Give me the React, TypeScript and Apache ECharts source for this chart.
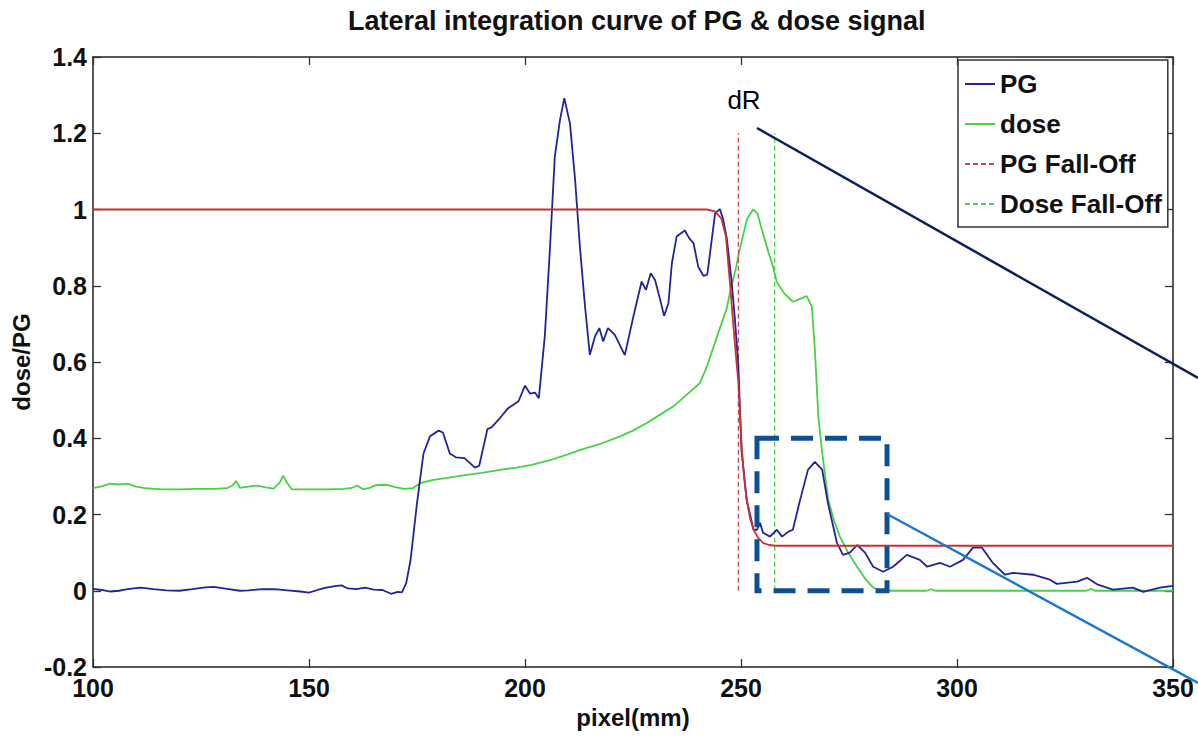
import React, { useEffect, useRef } from "react";
import * as echarts from "echarts";

// ---- data ----
const xTicks = [100, 150, 200, 250, 300, 350];
const yTicks = [-0.2, 0, 0.2, 0.4, 0.6, 0.8, 1, 1.2, 1.4];

const pgX = [100, 102, 104, 106, 108, 111, 114, 117, 120, 123, 126, 128, 131, 134, 136, 139, 142, 145, 148, 150, 152, 154, 156, 157.5, 159, 161, 163, 165, 167, 169, 170.5, 171.5, 172.5, 173.5, 175, 176.5, 178, 180, 181, 182.6, 184, 186, 188.4, 189.4, 191.3, 192.3, 194.2, 196.1, 198.5, 200, 201.2, 202.3, 203.2, 204.6, 205.8, 206.9, 208.1, 209.1, 210.4, 211.6, 212.7, 213.9, 215, 216.2, 217.2, 218.1, 219.2, 220.8, 223.1, 225.1, 227, 228, 229.1, 230.1, 231.3, 232.2, 233.2, 234, 235.1, 237, 238, 239, 240.1, 241.3, 242.2, 244, 245.1, 245.9, 246.7, 247.8, 248.6, 249.4, 250.1, 251.3, 252.9, 253.7, 254.4, 255.1, 256.7, 258.3, 259.5, 261, 262, 263.7, 265.5, 267.1, 268.8, 270.1, 272.2, 273.6, 275.2, 276.9, 278.7, 280.6, 282.9, 285.2, 288.4, 291.4, 293.1, 296.1, 298.4, 301.4, 303.7, 305.8, 308.3, 311.1, 313, 317.6, 321.5, 323.1, 327.8, 330.1, 332.6, 336.1, 340.7, 343.1, 347, 350];
const pgY = [0.005, 0.002, -0.002, 0.0, 0.004, 0.008, 0.004, 0.001, 0.0, 0.004, 0.009, 0.01, 0.005, 0.0, 0.001, 0.004, 0.004, 0.001, -0.002, -0.005, 0.002, 0.008, 0.012, 0.014, 0.006, 0.004, 0.008, 0.003, 0.002, -0.008, -0.003, -0.004, 0.02, 0.08, 0.23, 0.36, 0.405, 0.42, 0.415, 0.36, 0.35, 0.348, 0.323, 0.328, 0.424, 0.429, 0.453, 0.479, 0.497, 0.538, 0.517, 0.52, 0.505, 0.67, 0.903, 1.139, 1.235, 1.292, 1.226, 1.078, 0.903, 0.745, 0.619, 0.667, 0.689, 0.654, 0.689, 0.671, 0.618, 0.72, 0.811, 0.789, 0.833, 0.815, 0.763, 0.721, 0.754, 0.859, 0.929, 0.945, 0.925, 0.912, 0.85, 0.826, 0.829, 0.99, 1.001, 0.973, 0.925, 0.815, 0.711, 0.588, 0.37, 0.239, 0.16, 0.16, 0.178, 0.152, 0.142, 0.16, 0.142, 0.155, 0.16, 0.239, 0.317, 0.338, 0.317, 0.231, 0.126, 0.094, 0.1, 0.12, 0.1, 0.063, 0.05, 0.063, 0.094, 0.081, 0.063, 0.073, 0.063, 0.081, 0.113, 0.113, 0.073, 0.042, 0.047, 0.042, 0.029, 0.018, 0.024, 0.034, 0.016, 0.003, 0.008, -0.003, 0.008, 0.013];

const doseX = [100, 102, 104, 106, 108, 110, 112, 116, 120, 124, 128, 131, 132.3, 133.1, 134, 136, 138, 140, 141.8, 143.3, 144, 144.8, 146, 150, 154, 158, 160, 161.1, 162.5, 164, 165.5, 168, 170, 172, 174, 175.7, 178.8, 182, 186.5, 190, 194.2, 198, 201.5, 206, 209.7, 213, 217.4, 222, 225, 228.2, 231, 234.3, 237, 240.5, 242, 243.5, 245, 246.7, 247.5, 248.8, 249.8, 251.4, 252.8, 253.8, 255, 256.3, 257.4, 258.3, 260, 262, 263.5, 265.2, 266.4, 267.1, 267.9, 268.7, 270.2, 271.5, 272.9, 274.8, 276.8, 278.7, 280.6, 282, 285, 293, 294, 295, 330, 331, 332, 350];
const doseY = [0.269, 0.274, 0.281, 0.279, 0.281, 0.273, 0.269, 0.266, 0.266, 0.267, 0.267, 0.269, 0.276, 0.288, 0.27, 0.273, 0.276, 0.271, 0.268, 0.285, 0.302, 0.285, 0.266, 0.266, 0.266, 0.267, 0.27, 0.276, 0.266, 0.27, 0.277, 0.278, 0.272, 0.267, 0.269, 0.282, 0.291, 0.296, 0.304, 0.309, 0.317, 0.323, 0.33, 0.343, 0.357, 0.37, 0.385, 0.405, 0.42, 0.44, 0.46, 0.483, 0.51, 0.545, 0.585, 0.635, 0.685, 0.74, 0.785, 0.845, 0.9, 0.975, 1.0, 0.99, 0.94, 0.89, 0.85, 0.81, 0.78, 0.758, 0.765, 0.773, 0.745, 0.632, 0.457, 0.37, 0.239, 0.185, 0.142, 0.1, 0.064, 0.032, 0.008, 0.002, 0.0, 0.0, 0.004, 0.0, 0.0, 0.005, 0.0, 0.0];

const fitX = [100, 242, 244, 245.5, 246.5, 247.5, 248.2, 248.8, 249.4, 250.2, 250.8, 251.3, 252.1, 252.9, 254, 255.2, 256.5, 258, 350];
const fitY = [1, 1, 0.995, 0.975, 0.93, 0.8, 0.7, 0.62, 0.545, 0.37, 0.29, 0.24, 0.19, 0.16, 0.138, 0.125, 0.12, 0.118, 0.118];

const pgFallOff = 249.4;
const doseFallOff = 257.8;
const fallOffTop = 1.2;

const zoomBoxX = [253.7, 283.8];
const zoomBoxY = [0.4, 0.0];

const FONT = '"Liberation Sans", Arial, Helvetica, sans-serif';

const zip = (xs: number[], ys: number[]) => xs.map((x, i) => [x, ys[i]]);

export default function App() {
  const ref = useRef<HTMLDivElement>(null);
  useEffect(() => {
    const chart = echarts.init(ref.current!, null, { renderer: "svg" });
    const axisLine = { show: true, onZero: false, lineStyle: { color: "#222", width: 1.5 } };
    const tick = { show: true, inside: true, length: 8, lineStyle: { color: "#333", width: 1.3 } };
    const fmt = (v: number) => String(parseFloat(v.toFixed(1)));
    chart.setOption({
      animation: false,
      backgroundColor: "#fff",
      textStyle: { fontFamily: FONT },
      title: {
        text: "Lateral integration curve of PG & dose signal",
        left: 343,
        top: 2,
        textStyle: { fontFamily: FONT, fontWeight: "bold", fontSize: 27, color: "#111" },
      },
      grid: { left: 93, right: 25, top: 57, bottom: 71, containLabel: false },
      legend: {
        data: ["PG", "dose", "PG Fall-Off", "Dose Fall-Off"],
        orient: "vertical",
        left: 958,
        top: 60,
        backgroundColor: "#fff",
        borderColor: "#333",
        borderWidth: 1.5,
        padding: [11, 6, 10, 6],
        itemGap: 14,
        itemWidth: 30,
        itemHeight: 14,
        itemStyle: { opacity: 0 },
        textStyle: { fontFamily: FONT, fontWeight: "bold", fontSize: 26, color: "#111" },
      },
      xAxis: [
        {
          type: "value",
          min: xTicks[0],
          max: xTicks[xTicks.length - 1],
          interval: 50,
          axisLine,
          axisTick: tick,
          splitLine: { show: false },
          axisLabel: { fontFamily: FONT, fontWeight: "bold", fontSize: 25, color: "#111", margin: 8 },
          name: "pixel(mm)",
          nameLocation: "middle",
          nameGap: 38,
          nameTextStyle: { fontFamily: FONT, fontWeight: "bold", fontSize: 24, color: "#111" },
        },
        {
          type: "value",
          position: "top",
          min: xTicks[0],
          max: xTicks[xTicks.length - 1],
          interval: 50,
          axisLine,
          axisTick: tick,
          splitLine: { show: false },
          axisLabel: { show: false },
        },
      ],
      yAxis: [
        {
          type: "value",
          min: yTicks[0],
          max: yTicks[yTicks.length - 1],
          interval: 0.2,
          axisLine,
          axisTick: tick,
          splitLine: { show: false },
          axisLabel: { fontFamily: FONT, fontWeight: "bold", fontSize: 25, color: "#111", margin: 6, formatter: fmt },
          name: "dose/PG",
          nameLocation: "middle",
          nameGap: 54,
          nameRotate: 90,
          nameTextStyle: { fontFamily: FONT, fontWeight: "bold", fontSize: 24, color: "#111" },
        },
        {
          type: "value",
          position: "right",
          min: yTicks[0],
          max: yTicks[yTicks.length - 1],
          interval: 0.2,
          axisLine,
          axisTick: tick,
          splitLine: { show: false },
          axisLabel: { show: false },
        },
      ],
      series: [
        {
          name: "PG",
          type: "line",
          data: zip(pgX, pgY),
          showSymbol: false,
          symbol: "none",
          lineStyle: { color: "#23239b", width: 1.8 },
          itemStyle: { color: "#23239b" },
          z: 3,
          markArea: {
            silent: true,
            z: 10,
            itemStyle: { color: "rgba(0,0,0,0)", borderColor: "#0d4f94", borderWidth: 5, borderType: [22, 12] },
            data: [[{ coord: [zoomBoxX[0], zoomBoxY[0]] }, { coord: [zoomBoxX[1], zoomBoxY[1]] }]],
          },
        },
        {
          name: "dose",
          type: "line",
          data: zip(doseX, doseY),
          showSymbol: false,
          symbol: "none",
          lineStyle: { color: "#45d345", width: 1.8 },
          itemStyle: { color: "#45d345" },
          z: 2,
        },
        {
          name: "PG Fall-Off",
          type: "line",
          data: [[pgFallOff, 0], [pgFallOff, fallOffTop]],
          showSymbol: false,
          symbol: "none",
          lineStyle: { color: "#c84a4a", width: 1.3, type: [5, 3] },
          itemStyle: { color: "#c84a4a" },
          z: 2,
        },
        {
          name: "Dose Fall-Off",
          type: "line",
          data: [[doseFallOff, 0], [doseFallOff, fallOffTop]],
          showSymbol: false,
          symbol: "none",
          lineStyle: { color: "#4cd44c", width: 1.3, type: [5, 3] },
          itemStyle: { color: "#4cd44c" },
          z: 2,
        },
        {
          name: "PG fit",
          type: "line",
          data: zip(fitX, fitY),
          showSymbol: false,
          symbol: "none",
          lineStyle: { color: "#c83232", width: 1.8 },
          itemStyle: { color: "#c83232" },
          z: 4,
        },
      ],
      graphic: [
        {
          type: "text",
          x: 744,
          y: 100,
          style: { text: "dR", fontFamily: FONT, fontSize: 26, fill: "#000", textAlign: "center", textVerticalAlign: "middle" },
        },
        {
          type: "line",
          shape: { x1: 757, y1: 128, x2: 1198, y2: 378 },
          style: { stroke: "#0b1f5e", lineWidth: 2.5 },
          z: 20,
        },
        {
          type: "line",
          shape: { x1: 887, y1: 514, x2: 1198, y2: 683 },
          style: { stroke: "#1b78d0", lineWidth: 2.5 },
          z: 20,
        },
      ],
    });
    return () => chart.dispose();
  }, []);
  return (
    <div
      ref={ref}
      style={{ position: "fixed", left: 0, top: 0, width: 1198, height: 738, background: "#fff" }}
    />
  );
}
